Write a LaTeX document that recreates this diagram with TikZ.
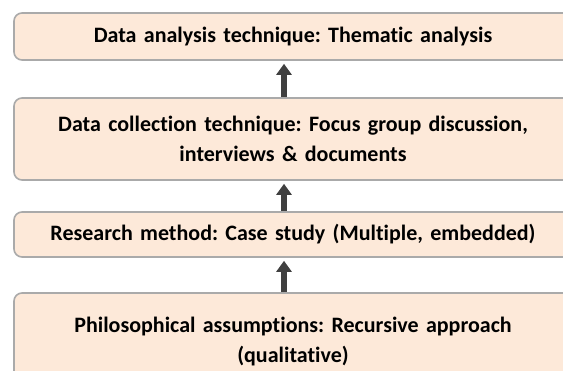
\documentclass[tikz,border=0pt]{standalone}
\usepackage{fontspec}
\setmainfont{Carlito}[Ligatures=NoCommon]
\usetikzlibrary{arrows.meta}
\definecolor{boxfill}{RGB}{253,233,217}
\definecolor{boxline}{RGB}{170,170,170}
\definecolor{arrowgray}{RGB}{64,64,64}
\frenchspacing

\begin{document}
\begin{tikzpicture}[x=1bp,y=-1bp,
  layer/.style={draw=boxline, line width=1.6bp, fill=boxfill, rounded corners=8bp,
    minimum width=558bp, text width=540bp, align=center, inner sep=0pt,
    font=\fontsize{22bp}{30bp}\selectfont\bfseries},
  upflow/.style={arrowgray, line width=6.5bp, -{Triangle[width=15bp,length=11bp]}}]
  \useasboundingbox (0,0) rectangle (563,370);

  % Layers, from top to bottom
  \node[layer, minimum height=47bp] (ana) at (293,36.5) {Data analysis technique: Thematic analysis};
  \node[layer, minimum height=82bp] (col) at (293,139) {Data collection technique: Focus group discussion,\\ interviews \& documents};
  \node[layer, minimum height=45bp] (met) at (293,234.5) {Research method: Case study (Multiple, embedded)};
  \node[layer, minimum height=98bp] (phi) at (293,342) {Philosophical assumptions: Recursive approach\\ (qualitative)};

  % Upward arrows
  \draw[upflow] ([xshift=-9bp]col.north) -- ([xshift=-9bp,yshift=-3bp]ana.south);
  \draw[upflow] ([xshift=-9bp]met.north) -- ([xshift=-9bp,yshift=-3bp]col.south);
  \draw[upflow] ([xshift=-9bp]phi.north) -- ([xshift=-9bp,yshift=-3bp]met.south);
\end{tikzpicture}
\end{document}
